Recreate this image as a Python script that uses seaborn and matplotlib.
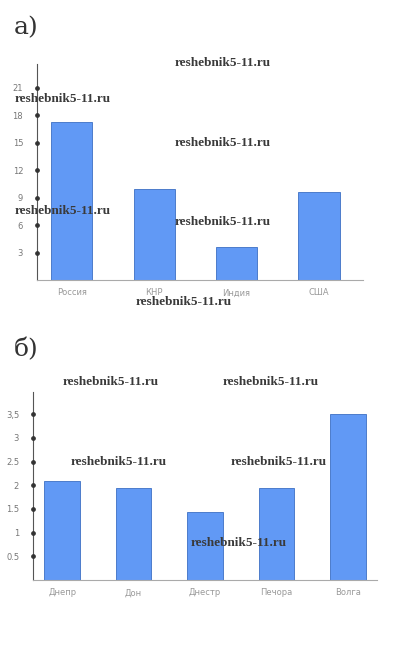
import matplotlib
matplotlib.use('Agg')
import matplotlib.pyplot as plt
import seaborn as sns

# data
countries = ['Россия', 'КНР', 'Индия', 'США']
countries_vals = [17.3, 9.9, 3.6, 9.6]
countries_ticks = [3, 6, 9, 12, 15, 18, 21]

rivers = ['Днепр', 'Дон', 'Днестр', 'Печора', 'Волга']
rivers_vals = [2.1, 1.95, 1.43, 1.95, 3.5]
rivers_ticks = [0.5, 1, 1.5, 2, 2.5, 3, 3.5]
rivers_tick_labels = ['0.5', '1', '1.5', '2', '2.5', '3', '3,5']

watermark = 'reshebnik5-11.ru'

sns.set_style('white')
bar_color = '#6199f5'
edge_color = '#3d6fc4'

fig = plt.figure(figsize=(3.94, 6.5), dpi=100)


def draw_panel(ax, cats, vals, ticks, tick_labels, ymax, xlim):
    sns.barplot(x=cats, y=vals, ax=ax, color=bar_color, width=0.5,
                saturation=1, edgecolor=edge_color, linewidth=0.6)
    ax.set_ylim(0, ymax)
    ax.set_xlim(*xlim)
    ax.set_yticks(ticks)
    ax.set_yticklabels(tick_labels)
    for s in ['top', 'right']:
        ax.spines[s].set_visible(False)
    ax.spines['left'].set_color('#555555')
    ax.spines['left'].set_linewidth(0.8)
    ax.spines['bottom'].set_color('#aaaaaa')
    ax.spines['bottom'].set_linewidth(0.8)
    ax.tick_params(axis='y', length=0, pad=10, labelsize=6, labelcolor='#777777')
    ax.tick_params(axis='x', length=0, pad=6, labelsize=6, labelcolor='#999999')
    # dots on the axis at each tick
    ax.plot([xlim[0]] * len(ticks), ticks, 'o', ms=2.4, color='#333333',
            clip_on=False, zorder=5)
    ax.set_xlabel('')
    ax.set_ylabel('')


ax1 = fig.add_axes([0.0939, 0.569, 0.827, 0.3325])
draw_panel(ax1, countries, countries_vals, countries_ticks,
           [str(t) for t in countries_ticks], 23.6, (-0.42, 3.53))

ax2 = fig.add_axes([0.0838, 0.1077, 0.873, 0.2893])
draw_panel(ax2, rivers, rivers_vals, rivers_ticks, rivers_tick_labels,
           3.97, (-0.41, 4.41))

fig.text(0.035, 0.958, 'а)', fontsize=18, family='DejaVu Serif',
         color='#333333', va='center')
fig.text(0.035, 0.462, 'б)', fontsize=18, family='DejaVu Serif',
         color='#333333', va='center')

# watermarks
wm_pos = [(223, 63), (63, 99), (223, 143), (63, 211), (223, 222), (184, 302),
          (111, 382), (271, 382), (119, 462), (279, 462), (239, 543)]
for px, py in wm_pos:
    fig.text(px / 394, 1 - py / 650, watermark, fontsize=9.5,
             family='Liberation Serif', weight='bold', color='#3a3a3a',
             ha='center', va='center', zorder=10)

fig.savefig('out.png', dpi=100)
